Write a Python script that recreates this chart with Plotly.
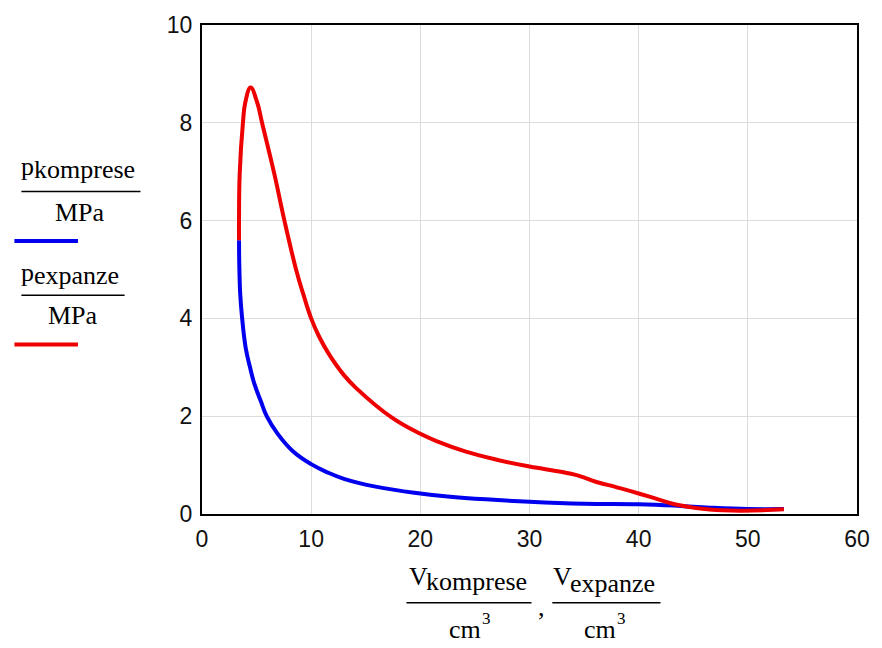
import plotly.graph_objects as go

# Compression branch (blue): volume [cm^3], pressure [MPa]
V_komprese = [3.39, 3.40, 3.42, 3.50, 3.66, 4.00, 4.40, 4.80, 5.40, 5.95, 6.90, 8.30,
              10.0, 11.5, 13.0, 15.9, 20.0, 22.5, 26.0, 30.0, 35.0, 40.0, 43.5, 46.5,
              50.0, 53.3]
p_komprese = [5.60, 5.30, 5.06, 4.50, 4.04, 3.40, 3.00, 2.66, 2.30, 1.99, 1.65, 1.29,
              1.02, 0.85, 0.72, 0.56, 0.42, 0.36, 0.30, 0.25, 0.21, 0.20, 0.17, 0.13,
              0.10, 0.10]

# Expansion branch (red)
V_expanze = [3.39, 3.39, 3.45, 3.75, 3.97, 4.45, 5.05, 5.50, 6.64, 7.55, 8.64, 9.30,
             10.0, 10.7, 11.6, 13.0, 14.1, 17.4, 20.0, 21.6, 24.1, 27.0, 30.0, 33.0,
             34.4, 35.2, 36.0, 38.0, 40.0, 42.0, 43.5, 46.5, 49.5, 53.3]
p_expanze = [5.60, 6.00, 6.94, 8.00, 8.42, 8.72, 8.42, 8.00, 6.94, 6.00, 4.98, 4.48,
             4.00, 3.64, 3.28, 2.84, 2.58, 1.97, 1.64, 1.48, 1.28, 1.11, 0.97, 0.86,
             0.79, 0.73, 0.665, 0.545, 0.42, 0.285, 0.19, 0.09, 0.067, 0.095]

x_ticks = [0, 10, 20, 30, 40, 50, 60]
y_ticks = [0, 2, 4, 6, 8, 10]

W, H = 882, 648
L, R, T, B = 202, 862, 18, 514


def P(px, py):
    return (px - L) / (R - L), (B - py) / (B - T)


SERIF = "Liberation Serif, Times New Roman, serif"
SANS = "Liberation Sans, Arial, sans-serif"

fig = go.Figure()
fig.add_trace(go.Scatter(x=V_komprese, y=p_komprese, mode="lines",
                         line=dict(color="#0000ee", width=4, shape="spline", smoothing=1.2),
                         showlegend=False, hoverinfo="skip"))
fig.add_trace(go.Scatter(x=V_expanze, y=p_expanze, mode="lines",
                         line=dict(color="#ee0000", width=4, shape="spline", smoothing=1.2),
                         showlegend=False, hoverinfo="skip"))

annotations = []
shapes = []


def text(px, py, s, size=26, anchor="center", family=SERIF):
    x, y = P(px, py)
    annotations.append(dict(x=x, y=y, xref="paper", yref="paper", text=s, showarrow=False,
                            xanchor=anchor, yanchor="middle",
                            font=dict(family=family, size=size, color="black")))


def hline(x0, x1, py, color="black", width=1.5):
    a, y = P(x0, py)
    b, _ = P(x1, py)
    shapes.append(dict(type="line", xref="paper", yref="paper", x0=a, x1=b, y0=y, y1=y,
                       line=dict(color=color, width=width)))


# Left legend
text(18, 162, "p", anchor="left")
text(31, 165, "komprese", anchor="left")
hline(20, 140, 187)
text(79, 208, "MPa")
hline(13, 77, 237, color="#0000ee", width=4)

text(18, 269, "p", anchor="left")
text(31, 272, "expanze", anchor="left")
hline(20, 124, 292)
text(72, 313, "MPa")
hline(13, 77, 342, color="#ee0000", width=4)

# X-axis label
text(409, 577, "V", anchor="left")
text(426, 582, "komprese", anchor="left")
hline(408, 534, 604)
text(467, 631, "cm")
text(489, 620, "3", size=17)
text(544, 609, ",")
text(554, 577, "V", anchor="left")
text(571, 585, "expanze", anchor="left")
hline(555, 664, 604)
text(603, 631, "cm")
text(625, 620, "3", size=17)

axis_common = dict(showgrid=True, gridcolor="#dcdcdc", gridwidth=1, showline=True,
                   linecolor="black", linewidth=2, mirror=True, zeroline=False,
                   tickfont=dict(family=SANS, size=23, color="#111"),
                   ticks="outside", ticklen=3, tickcolor="rgba(0,0,0,0)")

fig.update_xaxes(range=[0, 60], tickvals=x_ticks, ticktext=[str(v) for v in x_ticks],
                 **axis_common)
fig.update_yaxes(range=[0, 10], tickvals=y_ticks, ticktext=[str(v) for v in y_ticks],
                 **axis_common)

fig.update_layout(width=W, height=H, margin=dict(l=L, r=W - R, t=T, b=H - B),
                  plot_bgcolor="white", paper_bgcolor="white",
                  annotations=annotations, shapes=shapes)

fig.write_html("out.html")
